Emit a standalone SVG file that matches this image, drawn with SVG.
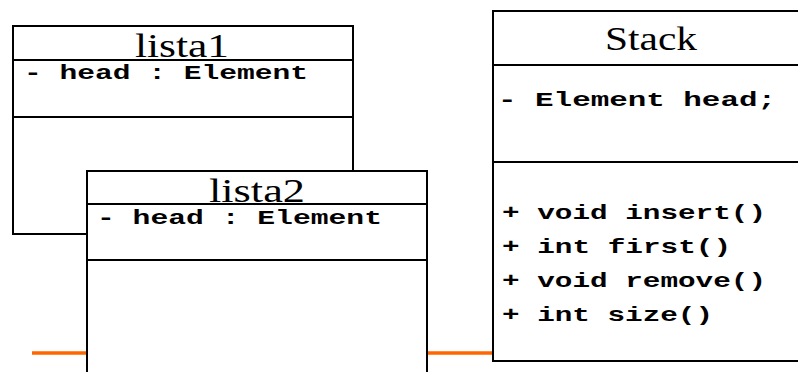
<svg xmlns="http://www.w3.org/2000/svg" width="798" height="372" viewBox="0 0 798 372">
<style>
.box{fill:#fff;stroke:#000;stroke-width:2}
.sep{stroke:#000;stroke-width:2}
.title{font-family:"Liberation Serif","Times New Roman",serif;font-size:34px;fill:#000;text-anchor:middle}
.mono{font-family:"Liberation Mono","Courier New",monospace;font-size:21px;font-weight:bold;fill:#000}
.conn{stroke:#FF6600;stroke-width:3.5;fill:none}
</style>
<rect width="798" height="372" fill="#fff"/>
<g id="lista1">
<rect class="box" x="13" y="26" width="340" height="208"/>
<line class="sep" x1="13" y1="60" x2="353" y2="60"/>
<line class="sep" x1="13" y1="117" x2="353" y2="117"/>
<text class="title" x="182" y="57" textLength="94" lengthAdjust="spacingAndGlyphs">lista1</text>
<text class="mono" x="24" y="79" textLength="284" lengthAdjust="spacingAndGlyphs">- head : Element</text>
</g>
<g id="connectors">
<line class="conn" x1="32" y1="353" x2="492" y2="353"/>
</g>
<g id="lista2">
<rect class="box" x="87" y="171" width="340" height="215"/>
<line class="sep" x1="87" y1="204" x2="427" y2="204"/>
<line class="sep" x1="87" y1="260" x2="427" y2="260"/>
<text class="title" x="257" y="202" textLength="96" lengthAdjust="spacingAndGlyphs">lista2</text>
<text class="mono" x="97" y="224" textLength="285" lengthAdjust="spacingAndGlyphs">- head : Element</text>
</g>
<g id="Stack">
<rect class="box" x="493" y="11" width="320" height="350"/>
<line class="sep" x1="493" y1="65" x2="813" y2="65"/>
<line class="sep" x1="493" y1="162" x2="813" y2="162"/>
<text class="title" x="651" y="50" textLength="92" lengthAdjust="spacingAndGlyphs">Stack</text>
<text class="mono" x="498" y="106" textLength="278" lengthAdjust="spacingAndGlyphs">- Element head;</text>
<text class="mono" x="502" y="219" textLength="264" lengthAdjust="spacingAndGlyphs">+ void insert()</text>
<text class="mono" x="502" y="253" textLength="229" lengthAdjust="spacingAndGlyphs">+ int first()</text>
<text class="mono" x="502" y="287" textLength="264" lengthAdjust="spacingAndGlyphs">+ void remove()</text>
<text class="mono" x="502" y="321" textLength="211" lengthAdjust="spacingAndGlyphs">+ int size()</text>
</g>
</svg>
